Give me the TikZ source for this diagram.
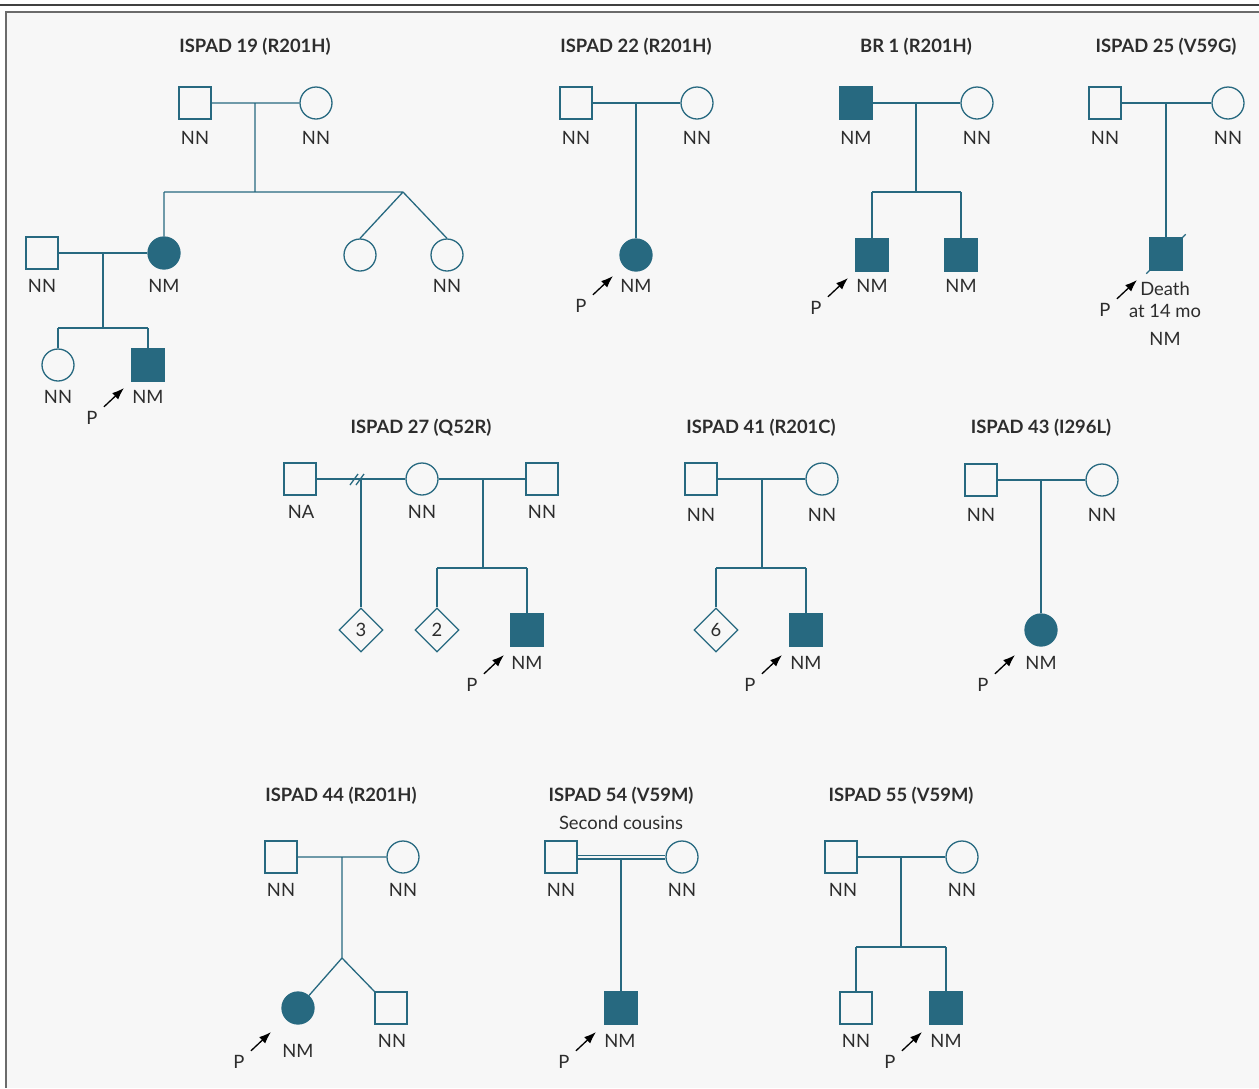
\documentclass[tikz,border=0pt]{standalone}
\usepackage{fontspec}
\setmainfont{Lato}
\usetikzlibrary{shapes.geometric,arrows.meta}
\definecolor{pedteal}{RGB}{39,105,128}
\definecolor{panelgray}{RGB}{247,247,247}
\definecolor{inkgray}{RGB}{45,45,45}

\begin{document}
\begin{tikzpicture}[x=0.5pt,y=-0.5pt,
  ped/.style={draw=pedteal,line width=0.65pt},
  male/.style={rectangle,ped,fill=panelgray,minimum size=16pt,inner sep=0pt},
  female/.style={circle,ped,fill=panelgray,minimum size=16pt,inner sep=0pt},
  unknown/.style={diamond,ped,fill=panelgray,minimum size=22pt,inner sep=0pt,text=inkgray},
  aff/.style={fill=pedteal},
  lab/.style={text=inkgray,inner sep=3pt},
  ttl/.style={text=inkgray,font=\bfseries,anchor=base},
  prob/.style={draw=black,line width=0.65pt,-{Latex[length=6pt,width=4.4pt]}}]
\fontsize{9.2pt}{11pt}\selectfont
\useasboundingbox (0,0) rectangle (1259,1088);
\fill[panelgray] (6,12) rectangle (1259,1088);
\draw[draw=black!58,line width=1pt] (1259,12) -- (6,12) -- (6,1088);
\draw[draw=black!75,line width=1pt] (0,5) -- (1259,5);

\node[ttl] (t19) at (255,52) {ISPAD 19 (R201H)};
\node[male] (f19) at (195,103) {};
\node[female] (m19) at (316,103) {};
\node[lab] (f19t) at (195,138) {NN};
\node[lab] (m19t) at (316,138) {NN};
\coordinate (j19) at (255,103);
\coordinate (s19) at (255,192);
\coordinate (s19a) at (164,192);
\coordinate (s19b) at (403,192);
\node[female,aff] (d19) at (164,253) {};
\node[female] (w19a) at (360,255) {};
\node[female] (w19b) at (447,255) {};
\node[lab] (d19t) at (164,286) {NM};
\node[lab] (w19t) at (447,286) {NN};
\node[male] (h19) at (42,253) {};
\node[lab] (h19t) at (42,286) {NN};
\coordinate (j19b) at (103,253);
\coordinate (s19c) at (103,328);
\coordinate (s19d) at (58,328);
\coordinate (s19e) at (148,328);
\node[female] (g19a) at (58,365) {};
\node[male,aff] (g19b) at (148,365) {};
\node[lab] (g19at) at (58,397) {NN};
\node[lab] (g19bt) at (148,397) {NM};
\draw[ped] (f19) -- (m19) (j19) -- (s19) (s19a) -- (s19b) (s19a) -- (d19)
  (s19b) -- (w19a.north) (s19b) -- (w19b.north);
\draw[ped] (h19) -- (d19) (j19b) -- (s19c) (s19d) -- (s19e) (s19d) -- (g19a) (s19e) -- (g19b);

\node[ttl] (t22) at (636,52) {ISPAD 22 (R201H)};
\node[male] (f22) at (576,103) {};
\node[female] (m22) at (697,103) {};
\node[lab] (f22t) at (576,138) {NN};
\node[lab] (m22t) at (697,138) {NN};
\coordinate (j22) at (636,103);
\node[female,aff] (c22) at (636,255) {};
\node[lab] (c22t) at (636,286) {NM};
\draw[ped] (f22) -- (m22) (j22) -- (c22);

\node[ttl] (tbr1) at (916,52) {BR 1 (R201H)};
\node[male,aff] (fbr1) at (856,103) {};
\node[female] (mbr1) at (977,103) {};
\node[lab] (fbr1t) at (856,138) {NM};
\node[lab] (mbr1t) at (977,138) {NN};
\coordinate (jbr1) at (916,103);
\coordinate (sbr1) at (916,192);
\coordinate (sbr1a) at (872,192);
\coordinate (sbr1b) at (961,192);
\node[male,aff] (cbr1a) at (872,255) {};
\node[male,aff] (cbr1b) at (961,255) {};
\node[lab] (cbr1at) at (872,286) {NM};
\node[lab] (cbr1bt) at (961,286) {NM};
\draw[ped] (fbr1) -- (mbr1) (jbr1) -- (sbr1) (sbr1a) -- (sbr1b) (sbr1a) -- (cbr1a) (sbr1b) -- (cbr1b);

\node[ttl] (t25) at (1166,52) {ISPAD 25 (V59G)};
\node[male] (f25) at (1105,103) {};
\node[female] (m25) at (1228,103) {};
\node[lab] (f25t) at (1105,138) {NN};
\node[lab] (m25t) at (1228,138) {NN};
\coordinate (j25) at (1166,103);
\node[male,aff] (c25) at (1166,254) {};
\node[lab,align=center] (c25d) at (1165,300) {Death\\at 14 mo};
\node[lab] (c25t) at (1165,339) {NM};
\draw[ped] (f25) -- (m25) (j25) -- (c25);
\draw[ped] ([shift={(-3,3)}]c25.south west) -- ([shift={(3,-3)}]c25.north east);

\node[ttl] (t27) at (421,433) {ISPAD 27 (Q52R)};
\node[male] (f27a) at (300,479) {};
\node[female] (m27) at (422,479) {};
\node[male] (f27b) at (542,479) {};
\node[lab] (f27at) at (301,512) {NA};
\node[lab] (m27t) at (422,512) {NN};
\node[lab] (f27bt) at (542,512) {NN};
\coordinate (j27a) at (361,479);
\coordinate (j27b) at (483,479);
\coordinate (s27) at (483,568);
\coordinate (s27a) at (437,568);
\coordinate (s27b) at (527,568);
\node[unknown] (u27a) at (361,630) {3};
\node[unknown] (u27b) at (437,630) {2};
\node[male,aff] (c27) at (527,630) {};
\node[lab] (c27t) at (527,663) {NM};
\draw[ped] (f27a) -- (m27) (m27) -- (f27b) (j27a) -- (u27a) (j27b) -- (s27)
  (s27a) -- (s27b) (s27a) -- (u27b) (s27b) -- (c27);
\draw[ped] (350,485) -- (358,474) (356,485) -- (364,474);

\node[ttl] (t41) at (761,433) {ISPAD 41 (R201C)};
\node[male] (f41) at (701,479) {};
\node[female] (m41) at (822,479) {};
\node[lab] (f41t) at (701,515) {NN};
\node[lab] (m41t) at (822,515) {NN};
\coordinate (j41) at (762,479);
\coordinate (s41) at (762,568);
\coordinate (s41a) at (716,568);
\coordinate (s41b) at (806,568);
\node[unknown] (u41) at (716,630) {6};
\node[male,aff] (c41) at (806,630) {};
\node[lab] (c41t) at (806,663) {NM};
\draw[ped] (f41) -- (m41) (j41) -- (s41) (s41a) -- (s41b) (s41a) -- (u41) (s41b) -- (c41);

\node[ttl] (t43) at (1041,433) {ISPAD 43 (I296L)};
\node[male] (f43) at (981,480) {};
\node[female] (m43) at (1102,480) {};
\node[lab] (f43t) at (981,515) {NN};
\node[lab] (m43t) at (1102,515) {NN};
\coordinate (j43) at (1041,480);
\node[female,aff] (c43) at (1041,630) {};
\node[lab] (c43t) at (1041,663) {NM};
\draw[ped] (f43) -- (m43) (j43) -- (c43);

\node[ttl] (t44) at (341,801) {ISPAD 44 (R201H)};
\node[male] (f44) at (281,857) {};
\node[female] (m44) at (403,857) {};
\node[lab] (f44t) at (281,890) {NN};
\node[lab] (m44t) at (403,890) {NN};
\coordinate (j44) at (342,857);
\coordinate (k44) at (342,958);
\node[female,aff] (c44a) at (298,1008) {};
\node[male] (c44b) at (391,1008) {};
\node[lab] (c44at) at (298,1051) {NM};
\node[lab] (c44bt) at (392,1041) {NN};
\draw[ped] (f44) -- (m44) (j44) -- (k44) (k44) -- (c44a) (k44) -- (c44b.north west);

\node[ttl] (t54) at (621,801) {ISPAD 54 (V59M)};
\node[lab] (n54) at (621,823) {Second cousins};
\node[male] (f54) at (561,857) {};
\node[female] (m54) at (682,857) {};
\node[lab] (f54t) at (561,890) {NN};
\node[lab] (m54t) at (682,890) {NN};
\coordinate (j54) at (621,859);
\node[male,aff] (c54) at (621,1008) {};
\node[lab] (c54t) at (620,1041) {NM};
\draw[ped,double=panelgray,double distance=1.4pt,line width=0.55pt] (f54) -- (m54);
\draw[ped] (j54) -- (c54);

\node[ttl] (t55) at (901,801) {ISPAD 55 (V59M)};
\node[male] (f55) at (841,857) {};
\node[female] (m55) at (962,857) {};
\node[lab] (f55t) at (843,890) {NN};
\node[lab] (m55t) at (962,890) {NN};
\coordinate (j55) at (901,857);
\coordinate (s55) at (901,947);
\coordinate (s55a) at (856,947);
\coordinate (s55b) at (946,947);
\node[male] (c55a) at (856,1008) {};
\node[male,aff] (c55b) at (946,1008) {};
\node[lab] (c55at) at (856,1041) {NN};
\node[lab] (c55bt) at (946,1041) {NM};
\draw[ped,line width=0.85pt] (f55) -- (m55);
\draw[ped] (j55) -- (s55) (s55a) -- (s55b) (s55a) -- (c55a) (s55b) -- (c55b);

\foreach \n/\x/\y in {19/92/418,22/581/306,br1/816/308,25/1105/310,27/472/685,
  41/750/685,43/983/685,44/239/1062,54/564/1062,55/890/1062}{
  \node[lab] (p\n) at (\x,\y) {P};
  \coordinate (ph\n) at (\x+32,\y-30);
  \draw[prob] (p\n) -- (ph\n);
}
\end{tikzpicture}
\end{document}
